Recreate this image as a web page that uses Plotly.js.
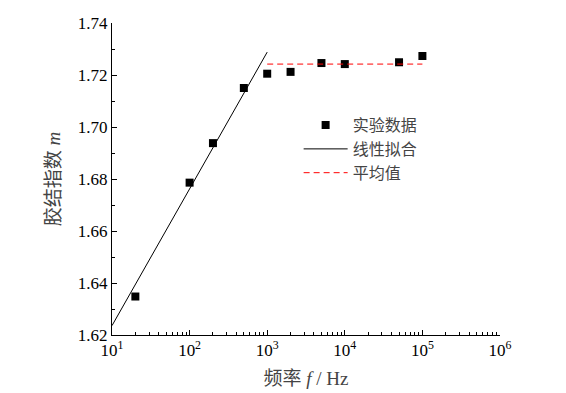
<!DOCTYPE html>
<html><head><meta charset="utf-8">
<script src="https://cdn.plot.ly/plotly-3.0.1.min.js"></script>
<style>html,body{margin:0;padding:0;background:#fff}#c{width:566px;height:393px}</style>
</head><body><div id="c"></div>
<script>
// data
const freqHz = [20, 100, 200, 500, 1000, 2000, 5000, 10000, 50000, 100000];
const exponentM = [1.6348, 1.6786, 1.6938, 1.7150, 1.7205, 1.7212, 1.7246, 1.7242, 1.7249, 1.7273];
const fitX = [10, 1000];
const fitY = [1.6236, 1.7288];
const meanX = [1000, 100000];
const meanY = [1.7242, 1.7242];
const xTickVals = [10, 100, 1000, 10000, 100000, 1000000];
const xTickText = ['10<sup>1</sup>', '10<sup>2</sup>', '10<sup>3</sup>', '10<sup>4</sup>', '10<sup>5</sup>', '10<sup>6</sup>'];
const seriesNames = ['实验数据', '线性拟合', '平均值'];

const minorX = [];
for (let d = 1; d < 6; d++) for (let k = 2; k <= 9; k++) minorX.push(k * Math.pow(10, d));

const serif = '"Liberation Serif", "Times New Roman", serif';
const cjk = '"Liberation Serif", "Noto Sans CJK SC", serif';

const traces = [
  {x: freqHz, y: exponentM, name: seriesNames[0], type: 'scatter', mode: 'markers',
   marker: {symbol: 'square', size: 8, color: '#000'}},
  {x: fitX, y: fitY, name: seriesNames[1], type: 'scatter', mode: 'lines',
   line: {color: '#000', width: 1}},
  {x: meanX, y: meanY, name: seriesNames[2], type: 'scatter', mode: 'lines',
   line: {color: '#ff0000', width: 1, dash: '6px,4px'}}
];

const layout = {
  width: 566, height: 393,
  margin: {l: 112, r: 66, t: 23, b: 58, pad: 0},
  paper_bgcolor: '#fff', plot_bgcolor: '#fff',
  showlegend: true,
  legend: {x: 0.481, y: 0.727, xanchor: 'left', yanchor: 'top', bgcolor: 'rgba(0,0,0,0)',
    font: {family: cjk, size: 16, color: '#444'}, itemwidth: 44, tracegroupgap: 0},
  xaxis: {
    type: 'log', range: [1, 6], showgrid: false, zeroline: false,
    showline: true, linecolor: '#000', linewidth: 1, mirror: false,
    tickmode: 'array', tickvals: xTickVals, ticktext: xTickText,
    ticks: 'inside', ticklen: 5, tickwidth: 1, tickcolor: '#000',
    tickfont: {family: serif, size: 17, color: '#000'},
    minor: {tickmode: 'array', tickvals: minorX, ticks: 'inside', ticklen: 3, tickwidth: 1, tickcolor: '#000', showgrid: false},
    title: {text: '频率 <i>f</i> / Hz', font: {family: cjk, size: 19, color: '#444'}, standoff: 12}
  },
  yaxis: {
    range: [1.62, 1.74], showgrid: false, zeroline: false,
    showline: true, linecolor: '#000', linewidth: 1, mirror: false,
    tickmode: 'linear', tick0: 1.62, dtick: 0.02, tickformat: '.2f',
    ticks: 'inside', ticklen: 5, tickwidth: 1, tickcolor: '#000',
    tickfont: {family: serif, size: 17, color: '#000'},
    minor: {dtick: 0.01, ticks: 'inside', ticklen: 3, tickwidth: 1, tickcolor: '#000', showgrid: false},
    title: {text: '胶结指数 <i>m</i>', font: {family: cjk, size: 19, color: '#444'}, standoff: 12}
  }
};

Plotly.newPlot('c', traces, layout, {displayModeBar: false, staticPlot: true});
</script>
</body></html>
